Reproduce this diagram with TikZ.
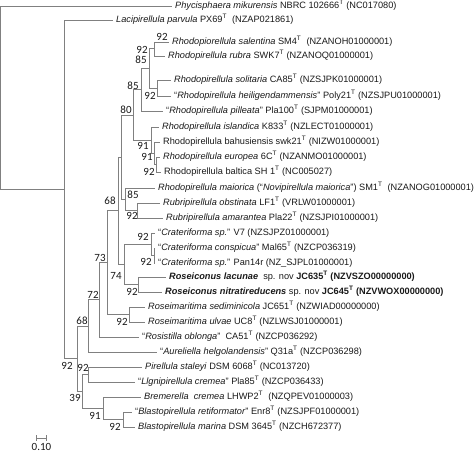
\documentclass[tikz,border=0pt]{standalone}
\usepackage{fontspec}
\setmainfont{Liberation Sans}
\newfontfamily\bootfont{Carlito}
\usetikzlibrary{positioning}
\definecolor{treegray}{gray}{0.5}
\definecolor{taxgray}{gray}{0.1}

\begin{document}
\begin{tikzpicture}[x=1pt,y=-1pt,
  branch/.style={draw=treegray,line width=0.8pt},
  taxon/.style={anchor=west,inner xsep=3pt,inner ysep=0pt,text=taxgray,
                text height=6.8pt,text depth=2.2pt,font=\fontsize{9.2}{11}\selectfont},
  boot/.style={inner sep=0pt,text=taxgray,font=\bootfont\fontsize{11}{12}\selectfont}]
\useasboundingbox (0,0) rectangle (474,464);
\coordinate (root) at (0.6,97.5);
\coordinate (A) at (64,189.3);   \coordinate (B) at (77,358.6);
\coordinate (C) at (88,325.9);   \coordinate (D) at (82,391.4);
\coordinate (E) at (99,299.8);   \coordinate (F) at (107,262.6);
\coordinate (H) at (118,210.75); \coordinate (G) at (121.5,157.1);
\coordinate (n80) at (133,114.9); \coordinate (n85m) at (141,89.6);
\coordinate (n85t) at (149,68.25); \coordinate (S) at (154,48.5);
\coordinate (T) at (157,88);     \coordinate (I) at (151,140.1);
\coordinate (J) at (154,153.25); \coordinate (K) at (156,164.5);
\coordinate (n85l) at (125,199.25); \coordinate (rub) at (137,210.5);
\coordinate (n74) at (124,264.4); \coordinate (crat) at (151,244.25);
\coordinate (cratin) at (154,255.5); \coordinate (ros) at (138,284.5);
\coordinate (rmar) at (129,314.5); \coordinate (pir) at (88,374.5);
\coordinate (n91) at (103,408.25); \coordinate (bla) at (123,419.5);

\node[taxon] (t1) at (172,6) {\textit{Phycisphaera mikurensis} NBRC 102666\textsuperscript{T} (NC017080)};
\node[taxon] (t2) at (113,20) {\textit{Lacipirellula parvula} PX69\textsuperscript{T}\ \ (NZAP021861)};
\node[taxon] (t3) at (169,42) {\textit{Rhodopiorellula salentina} SM4\textsuperscript{T}\ \ (NZANOH01000001)};
\node[taxon] (t4) at (165,56) {\textit{Rhodopirellula rubra} SWK7\textsuperscript{T} (NZANOQ01000001)};
\node[taxon] (t5) at (171,80) {\textit{Rhodopirellula solitaria} CA85\textsuperscript{T} (NZSJPK01000001)};
\node[taxon] (t6) at (171,96) {“\textit{Rhodopirellula heiligendammensis}” Poly21\textsuperscript{T} (NZSJPU01000001)};
\node[taxon] (t7) at (163,111) {“\textit{Rhodopirellula pilleata}” Pla100\textsuperscript{T} (SJPM01000001)};
\node[taxon] (t8) at (159,127) {\textit{Rhodopirellula islandica} K833\textsuperscript{T} (NZLECT01000001)};
\node[taxon] (t9) at (160,142) {Rhodopirellula bahusiensis swk21\textsuperscript{T} (NIZW01000001)};
\node[taxon] (t10) at (160,157) {\textit{Rhodopirellula europea} 6C\textsuperscript{T} (NZANMO01000001)};
\node[taxon] (t11) at (161,172) {Rhodopirellula baltica SH 1\textsuperscript{T} (NC005027)};
\node[taxon] (t12) at (155,188) {\textit{Rhodopirellula maiorica} (“\textit{Novipirellula maiorica}”) SM1\textsuperscript{T}\ \ (NZANOG01000001)};
\node[taxon] (t13) at (160,203) {\textit{Rubripirellula obstinata} LF1\textsuperscript{T} (VRLW01000001)};
\node[taxon] (t14) at (163,218) {\textit{Rubripirellula amarantea} Pla22\textsuperscript{T} (NZSJPI01000001)};
\node[taxon] (t15) at (155,233) {“\textit{Crateriforma sp.}” V7 (NZSJPZ01000001)};
\node[taxon] (t16) at (155,248) {“\textit{Crateriforma conspicua}” Mal65\textsuperscript{T} (NZCP036319)};
\node[taxon] (t17) at (155,263) {“\textit{Crateriforma sp.}” Pan14r (NZ\_SJPL01000001)};
\node[taxon] (t18) at (166,277) {\textbf{\textit{Roseiconus lacunae}}\ \ sp. nov \textbf{JC635\textsuperscript{T} (NZVSZO00000000)}};
\node[taxon] (t19) at (162,292) {\textbf{\textit{Roseiconus nitratireducens}} sp. nov \textbf{JC645\textsuperscript{T} (NZVWOX00000000)}};
\node[taxon] (t20) at (145,307) {\textit{Roseimaritima sediminicola} JC651\textsuperscript{T} (NZWIAD00000000)};
\node[taxon] (t21) at (145,322) {\textit{Roseimaritima ulvae} UC8\textsuperscript{T} (NZLWSJ01000001)};
\node[taxon] (t22) at (139,337) {“\textit{Rosistilla oblonga}”\ \ CA51\textsuperscript{T} (NZCP036292)};
\node[taxon] (t23) at (157,352) {“\textit{Aureliella helgolandensis}” Q31a\textsuperscript{T} (NZCP036298)};
\node[taxon] (t24) at (142,367) {\textit{Pirellula staleyi} DSM 6068\textsuperscript{T} (NC013720)};
\node[taxon] (t25) at (135,382) {“\textit{Llgnipirellula cremea}” Pla85\textsuperscript{T} (NZCP036433)};
\node[taxon] (t26) at (141,397) {\textit{Bremerella}\ \ \textit{cremea} LHWP2\textsuperscript{T}\ \ (NZQPEV01000003)};
\node[taxon] (t27) at (132,412) {“\textit{Blastopirellula retiformator}” Enr8\textsuperscript{T} (NZSJPF01000001)};
\node[taxon] (t28) at (135,427) {\textit{Blastopirellula marina} DSM 3645\textsuperscript{T} (NZCH672377)};

\draw[branch] (root) |- (t1.west); \draw[branch] (root) |- (A);
\draw[branch] (A) |- (t2.west); \draw[branch] (A) |- (B);
\draw[branch] (B) |- (C); \draw[branch] (B) |- (D);
\draw[branch] (C) |- (E); \draw[branch] (C) |- (t23.west);
\draw[branch] (E) |- (F); \draw[branch] (E) |- (t22.west);
\draw[branch] (F) |- (H); \draw[branch] (F) |- (rmar);
\draw[branch] (H) |- (G); \draw[branch] (H) |- (n74);
\draw[branch] (G) |- (n80); \draw[branch] (G) |- (n85l);
\draw[branch] (n80) |- (n85m); \draw[branch] (n80) |- (I);
\draw[branch] (n85m) |- (n85t); \draw[branch] (n85m) |- (t7.west);
\draw[branch] (n85t) |- (S); \draw[branch] (n85t) |- (T);
\draw[branch] (S) |- (t3.west); \draw[branch] (S) |- (t4.west);
\draw[branch] (T) |- (t5.west); \draw[branch] (T) |- (t6.west);
\draw[branch] (I) |- (t8.west); \draw[branch] (I) |- (J);
\draw[branch] (J) |- (t9.west); \draw[branch] (J) |- (K);
\draw[branch] (K) |- (t10.west); \draw[branch] (K) |- (t11.west);
\draw[branch] (n85l) |- (t12.west); \draw[branch] (n85l) |- (rub);
\draw[branch] (rub) |- (t13.west); \draw[branch] (rub) |- (t14.west);
\draw[branch] (n74) |- (crat); \draw[branch] (n74) |- (ros);
\draw[branch] (crat) |- (t15.west); \draw[branch] (crat) |- (cratin);
\draw[branch] (cratin) |- (t16.west); \draw[branch] (cratin) |- (t17.west);
\draw[branch] (ros) |- (t18.west); \draw[branch] (ros) |- (t19.west);
\draw[branch] (rmar) |- (t20.west); \draw[branch] (rmar) |- (t21.west);
\draw[branch] (D) |- (pir); \draw[branch] (D) |- (n91);
\draw[branch] (pir) |- (t24.west); \draw[branch] (pir) |- (t25.west);
\draw[branch] (n91) |- (t26.west); \draw[branch] (n91) |- (bla);
\draw[branch] (bla) |- (t27.west); \draw[branch] (bla) |- (t28.west);

\node[boot] (b1) at (162,37) {92};  \node[boot] (b2) at (142,50) {92};
\node[boot] (b3) at (141,60) {85};  \node[boot] (b4) at (133,86) {85};
\node[boot] (b5) at (150,96) {92};  \node[boot] (b6) at (126,110) {80};
\node[boot] (b7) at (143,146) {91}; \node[boot] (b8) at (147,157) {91};
\node[boot] (b9) at (149,172) {92}; \node[boot] (b10) at (133,195) {85};
\node[boot] (b11) at (132,216) {92}; \node[boot] (b12) at (110,201) {68};
\node[boot] (b13) at (143,237) {92}; \node[boot] (b14) at (146,262) {92};
\node[boot] (b15) at (100,258) {73}; \node[boot] (b16) at (116,276) {74};
\node[boot] (b17) at (132,292) {92}; \node[boot] (b18) at (93,295) {72};
\node[boot] (b19) at (82,321) {68};  \node[boot] (b20) at (122,322) {92};
\node[boot] (b21) at (67,366) {92};  \node[boot] (b22) at (83,368) {92};
\node[boot] (b23) at (75,398) {39};  \node[boot] (b24) at (95,416) {91};
\node[boot] (b25) at (115,427) {92};

\coordinate (s1) at (36,438); \coordinate (sc) at (41.5,438); \coordinate (s2) at (47,438);
\draw[branch,line width=0.6pt,|-|] (s1) -- (s2);
\node[boot,below=5pt of sc] (sl) {0.10};
\end{tikzpicture}
\end{document}
